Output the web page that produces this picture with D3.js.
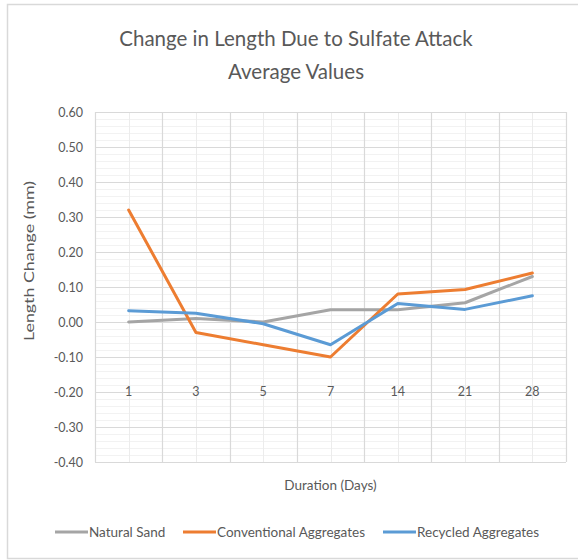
<!DOCTYPE html>
<html>
<head>
<meta charset="utf-8">
<script src="https://cdn.jsdelivr.net/npm/d3@7"></script>
<style>
  html, body { margin: 0; padding: 0; background: #fff; }
  svg { display: block; }
  text { font-family: Lato, "Open Sans", sans-serif; fill: #595959; }
</style>
</head>
<body>
<svg id="chart" width="578" height="560"></svg>
<script>
const categories = ["1", "3", "5", "7", "14", "21", "28"];
const naturalSand = [0.00, 0.01, 0.00, 0.035, 0.035, 0.055, 0.13];
const conventionalAggregates = [0.32, -0.03, -0.065, -0.10, 0.08, 0.093, 0.14];
const recycledAggregates = [0.032, 0.025, -0.005, -0.065, 0.053, 0.036, 0.075];
const yTicks = [0.60, 0.50, 0.40, 0.30, 0.20, 0.10, 0.00, -0.10, -0.20, -0.30, -0.40];
const seriesNames = ["Natural Sand", "Conventional Aggregates", "Recycled Aggregates"];
const seriesColors = ["#a5a5a5", "#ed7d31", "#5b9bd5"];

const series = [naturalSand, conventionalAggregates, recycledAggregates].map((v, i) => ({
  name: seriesNames[i], color: seriesColors[i], values: v
}));

const svg = d3.select("#chart");
const margin = { left: 95, right: 12, top: 112, bottom: 98 };
const W = 578, H = 560;
const pw = W - margin.left - margin.right;
const ph = H - margin.top - margin.bottom;

// outer border
svg.append("rect").attr("x", 7.5).attr("y", 4.5).attr("width", 580).attr("height", 554)
  .attr("fill", "#fff").attr("stroke", "#d9d9d9").attr("stroke-width", 1.5);

const x = d3.scaleBand().domain(categories).range([0, pw]).padding(0);
const y = d3.scaleLinear().domain([-0.40, 0.60]).range([ph, 0]);

const g = svg.append("g").attr("transform", `translate(${margin.left},${margin.top})`);

// minor horizontal grid
const minor = d3.range(-0.40, 0.601, 0.02).filter(v => Math.abs(Math.round(v * 100) % 10) !== 0);
g.append("g").selectAll("line").data(minor).join("line")
  .attr("x1", 0).attr("x2", pw)
  .attr("y1", d => Math.round(y(d)) + 0.5).attr("y2", d => Math.round(y(d)) + 0.5)
  .attr("stroke", "#f2f2f2").attr("stroke-width", 1);

// minor vertical grid at category centers
g.append("g").selectAll("line").data(categories).join("line")
  .attr("x1", d => Math.round(x(d) + x.bandwidth() / 2) + 0.5)
  .attr("x2", d => Math.round(x(d) + x.bandwidth() / 2) + 0.5)
  .attr("y1", 0).attr("y2", ph)
  .attr("stroke", "#ececec").attr("stroke-width", 1);

// major horizontal grid
g.append("g").selectAll("line").data(yTicks).join("line")
  .attr("x1", 0).attr("x2", pw)
  .attr("y1", d => Math.round(y(d)) + 0.5).attr("y2", d => Math.round(y(d)) + 0.5)
  .attr("stroke", "#d9d9d9").attr("stroke-width", 1.2);

// major vertical grid at band boundaries
const bounds = categories.map(c => x(c)).concat([pw]);
g.append("g").selectAll("line").data(bounds).join("line")
  .attr("x1", d => Math.round(d) + 0.5).attr("x2", d => Math.round(d) + 0.5)
  .attr("y1", 0).attr("y2", ph)
  .attr("stroke", "#d9d9d9").attr("stroke-width", 1.2);

// y axis labels (hyphen-minus like the reference)
const fmt = d => d.toFixed(2);
const yAxis = d3.axisLeft(y).tickValues(yTicks).tickFormat(fmt).tickSize(0).tickPadding(12);
const ya = g.append("g").call(yAxis);
ya.select(".domain").remove();
ya.selectAll("text").style("font-family", "Lato, sans-serif").style("font-size", "12.5px").attr("fill", "#595959");

// x axis labels
const xAxis = d3.axisBottom(x).tickSize(0).tickPadding(0);
const xa = g.append("g").attr("transform", `translate(0,${y(-0.2)})`).call(xAxis);
xa.select(".domain").remove();
xa.selectAll("text").style("font-family", "Lato, sans-serif").style("font-size", "12.5px").attr("fill", "#595959")
  .attr("dy", "0.32em").attr("y", 0);

// lines
const line = d3.line()
  .x((d, i) => x(categories[i]) + x.bandwidth() / 2)
  .y(d => y(d));
g.append("g").selectAll("path").data(series).join("path")
  .attr("d", d => line(d.values))
  .attr("fill", "none")
  .attr("stroke", d => d.color)
  .attr("stroke-width", 3)
  .attr("stroke-linejoin", "round")
  .attr("stroke-linecap", "round");

// title
svg.append("text").attr("x", 296).attr("y", 46).attr("text-anchor", "middle")
  .style("font-size", "20.5px").text("Change in Length Due to Sulfate Attack");
svg.append("text").attr("x", 296).attr("y", 79).attr("text-anchor", "middle")
  .style("font-size", "20.5px").text("Average Values");

// axis titles
svg.append("text").attr("transform", `translate(29,261) rotate(-90)`).attr("text-anchor", "middle")
  .attr("dy", "0.35em").attr("textLength", 160).attr("lengthAdjust", "spacingAndGlyphs")
  .style("font-size", "14px").text("Length Change (mm)");
svg.append("text").attr("x", margin.left + pw / 2).attr("y", 490).attr("text-anchor", "middle")
  .style("font-size", "13.5px").text("Duration (Days)");

// legend
const legendX = [55, 183, 383];
const lg = svg.append("g").selectAll("g").data(series).join("g")
  .attr("transform", (d, i) => `translate(${legendX[i]},532)`);
lg.append("line").attr("x1", 0).attr("x2", 33).attr("y1", 0).attr("y2", 0)
  .attr("stroke", d => d.color).attr("stroke-width", 3);
lg.append("text").attr("x", 34).attr("y", 0).attr("dy", "0.35em")
  .style("font-size", "13.5px").text(d => d.name);
</script>
</body>
</html>
